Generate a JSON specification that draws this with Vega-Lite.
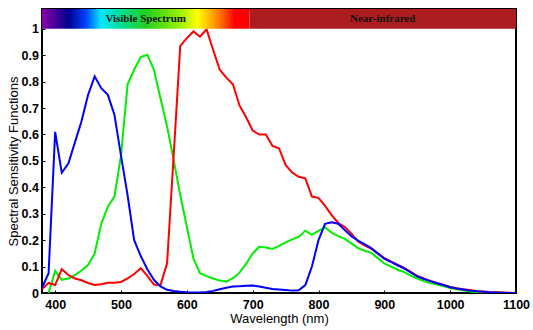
{
  "$schema": "https://vega.github.io/schema/vega-lite/v6.json",
  "width": 474,
  "height": 284,
  "autosize": {"type": "none"},
  "padding": {"left": 42, "top": 9, "right": 17, "bottom": 37},
  "background": "white",
  "config": {"view": {"stroke": "#000", "strokeWidth": 2}, "axis": {"labelOverlap": false, "labelFlush": false}},
  "datasets": {
    "bands": [
      {"region": "Visible Spectrum", "start": 380, "end": 695, "mid": 537.5, "low": 1.0, "high": 1.075, "ty": 1.0375},
      {"region": "Near-infrared", "start": 695, "end": 1100, "mid": 897.5, "low": 1.0, "high": 1.075, "ty": 1.0375}
    ],
    "curves": [
      {"ch":"G","wl":390,"v":0.0},{"ch":"G","wl":400,"v":0.084},{"ch":"G","wl":410,"v":0.05},{"ch":"G","wl":420,"v":0.055},{"ch":"G","wl":430,"v":0.068},{"ch":"G","wl":440,"v":0.085},{"ch":"G","wl":450,"v":0.106},{"ch":"G","wl":460,"v":0.15},{"ch":"G","wl":470,"v":0.262},{"ch":"G","wl":480,"v":0.327},{"ch":"G","wl":490,"v":0.365},{"ch":"G","wl":500,"v":0.52},{"ch":"G","wl":510,"v":0.79},{"ch":"G","wl":520,"v":0.845},{"ch":"G","wl":530,"v":0.893},{"ch":"G","wl":540,"v":0.902},{"ch":"G","wl":550,"v":0.845},{"ch":"G","wl":560,"v":0.737},{"ch":"G","wl":570,"v":0.63},{"ch":"G","wl":580,"v":0.504},{"ch":"G","wl":590,"v":0.371},{"ch":"G","wl":600,"v":0.251},{"ch":"G","wl":610,"v":0.131},{"ch":"G","wl":620,"v":0.075},{"ch":"G","wl":630,"v":0.064},{"ch":"G","wl":640,"v":0.055},{"ch":"G","wl":650,"v":0.047},{"ch":"G","wl":660,"v":0.043},{"ch":"G","wl":670,"v":0.056},{"ch":"G","wl":680,"v":0.077},{"ch":"G","wl":690,"v":0.11},{"ch":"G","wl":700,"v":0.15},{"ch":"G","wl":710,"v":0.175},{"ch":"G","wl":720,"v":0.172},{"ch":"G","wl":730,"v":0.167},{"ch":"G","wl":740,"v":0.178},{"ch":"G","wl":750,"v":0.192},{"ch":"G","wl":760,"v":0.203},{"ch":"G","wl":770,"v":0.212},{"ch":"G","wl":780,"v":0.236},{"ch":"G","wl":790,"v":0.22},{"ch":"G","wl":800,"v":0.235},{"ch":"G","wl":810,"v":0.248},{"ch":"G","wl":820,"v":0.228},{"ch":"G","wl":830,"v":0.215},{"ch":"G","wl":840,"v":0.205},{"ch":"G","wl":850,"v":0.188},{"ch":"G","wl":860,"v":0.17},{"ch":"G","wl":870,"v":0.16},{"ch":"G","wl":880,"v":0.152},{"ch":"G","wl":890,"v":0.132},{"ch":"G","wl":900,"v":0.112},{"ch":"G","wl":910,"v":0.1},{"ch":"G","wl":920,"v":0.088},{"ch":"G","wl":930,"v":0.079},{"ch":"G","wl":940,"v":0.066},{"ch":"G","wl":950,"v":0.055},{"ch":"G","wl":960,"v":0.045},{"ch":"G","wl":970,"v":0.038},{"ch":"G","wl":980,"v":0.032},{"ch":"G","wl":990,"v":0.025},{"ch":"G","wl":1000,"v":0.019},{"ch":"G","wl":1010,"v":0.014},{"ch":"G","wl":1020,"v":0.01},{"ch":"G","wl":1030,"v":0.006},{"ch":"G","wl":1040,"v":0.003},{"ch":"G","wl":1050,"v":0.001},{"ch":"G","wl":1060,"v":0.0},
      {"ch":"R","wl":380,"v":0.015},{"ch":"R","wl":390,"v":0.038},{"ch":"R","wl":400,"v":0.03},{"ch":"R","wl":410,"v":0.09},{"ch":"R","wl":420,"v":0.068},{"ch":"R","wl":430,"v":0.055},{"ch":"R","wl":440,"v":0.048},{"ch":"R","wl":450,"v":0.038},{"ch":"R","wl":460,"v":0.03},{"ch":"R","wl":470,"v":0.033},{"ch":"R","wl":480,"v":0.039},{"ch":"R","wl":490,"v":0.039},{"ch":"R","wl":500,"v":0.042},{"ch":"R","wl":510,"v":0.055},{"ch":"R","wl":520,"v":0.072},{"ch":"R","wl":530,"v":0.094},{"ch":"R","wl":540,"v":0.065},{"ch":"R","wl":550,"v":0.032},{"ch":"R","wl":560,"v":0.03},{"ch":"R","wl":570,"v":0.112},{"ch":"R","wl":580,"v":0.52},{"ch":"R","wl":590,"v":0.935},{"ch":"R","wl":600,"v":0.965},{"ch":"R","wl":610,"v":0.99},{"ch":"R","wl":620,"v":0.97},{"ch":"R","wl":630,"v":0.998},{"ch":"R","wl":640,"v":0.92},{"ch":"R","wl":650,"v":0.845},{"ch":"R","wl":660,"v":0.815},{"ch":"R","wl":670,"v":0.79},{"ch":"R","wl":680,"v":0.71},{"ch":"R","wl":690,"v":0.665},{"ch":"R","wl":700,"v":0.615},{"ch":"R","wl":710,"v":0.6},{"ch":"R","wl":720,"v":0.6},{"ch":"R","wl":730,"v":0.557},{"ch":"R","wl":740,"v":0.548},{"ch":"R","wl":750,"v":0.485},{"ch":"R","wl":760,"v":0.456},{"ch":"R","wl":770,"v":0.44},{"ch":"R","wl":780,"v":0.434},{"ch":"R","wl":790,"v":0.365},{"ch":"R","wl":800,"v":0.36},{"ch":"R","wl":810,"v":0.33},{"ch":"R","wl":820,"v":0.295},{"ch":"R","wl":830,"v":0.265},{"ch":"R","wl":840,"v":0.25},{"ch":"R","wl":850,"v":0.225},{"ch":"R","wl":860,"v":0.195},{"ch":"R","wl":870,"v":0.18},{"ch":"R","wl":880,"v":0.168},{"ch":"R","wl":890,"v":0.15},{"ch":"R","wl":900,"v":0.132},{"ch":"R","wl":910,"v":0.12},{"ch":"R","wl":920,"v":0.107},{"ch":"R","wl":930,"v":0.095},{"ch":"R","wl":940,"v":0.08},{"ch":"R","wl":950,"v":0.065},{"ch":"R","wl":960,"v":0.055},{"ch":"R","wl":970,"v":0.046},{"ch":"R","wl":980,"v":0.038},{"ch":"R","wl":990,"v":0.03},{"ch":"R","wl":1000,"v":0.023},{"ch":"R","wl":1010,"v":0.018},{"ch":"R","wl":1020,"v":0.014},{"ch":"R","wl":1030,"v":0.011},{"ch":"R","wl":1040,"v":0.008},{"ch":"R","wl":1050,"v":0.006},{"ch":"R","wl":1060,"v":0.004},{"ch":"R","wl":1070,"v":0.003},{"ch":"R","wl":1080,"v":0.002},{"ch":"R","wl":1090,"v":0.001},{"ch":"R","wl":1100,"v":0.0},
      {"ch":"B","wl":380,"v":0.02},{"ch":"B","wl":390,"v":0.075},{"ch":"B","wl":400,"v":0.61},{"ch":"B","wl":410,"v":0.455},{"ch":"B","wl":420,"v":0.49},{"ch":"B","wl":430,"v":0.57},{"ch":"B","wl":440,"v":0.65},{"ch":"B","wl":450,"v":0.75},{"ch":"B","wl":460,"v":0.82},{"ch":"B","wl":470,"v":0.775},{"ch":"B","wl":480,"v":0.75},{"ch":"B","wl":490,"v":0.675},{"ch":"B","wl":500,"v":0.52},{"ch":"B","wl":510,"v":0.37},{"ch":"B","wl":520,"v":0.2},{"ch":"B","wl":530,"v":0.14},{"ch":"B","wl":540,"v":0.09},{"ch":"B","wl":550,"v":0.05},{"ch":"B","wl":560,"v":0.025},{"ch":"B","wl":570,"v":0.012},{"ch":"B","wl":580,"v":0.008},{"ch":"B","wl":590,"v":0.005},{"ch":"B","wl":600,"v":0.003},{"ch":"B","wl":610,"v":0.002},{"ch":"B","wl":620,"v":0.002},{"ch":"B","wl":630,"v":0.004},{"ch":"B","wl":640,"v":0.008},{"ch":"B","wl":650,"v":0.014},{"ch":"B","wl":660,"v":0.02},{"ch":"B","wl":670,"v":0.025},{"ch":"B","wl":680,"v":0.026},{"ch":"B","wl":690,"v":0.027},{"ch":"B","wl":700,"v":0.028},{"ch":"B","wl":710,"v":0.025},{"ch":"B","wl":720,"v":0.02},{"ch":"B","wl":730,"v":0.015},{"ch":"B","wl":740,"v":0.013},{"ch":"B","wl":750,"v":0.011},{"ch":"B","wl":760,"v":0.009},{"ch":"B","wl":770,"v":0.01},{"ch":"B","wl":780,"v":0.03},{"ch":"B","wl":790,"v":0.1},{"ch":"B","wl":800,"v":0.2},{"ch":"B","wl":810,"v":0.262},{"ch":"B","wl":820,"v":0.268},{"ch":"B","wl":830,"v":0.262},{"ch":"B","wl":840,"v":0.238},{"ch":"B","wl":850,"v":0.215},{"ch":"B","wl":860,"v":0.198},{"ch":"B","wl":870,"v":0.185},{"ch":"B","wl":880,"v":0.17},{"ch":"B","wl":890,"v":0.15},{"ch":"B","wl":900,"v":0.13},{"ch":"B","wl":910,"v":0.118},{"ch":"B","wl":920,"v":0.105},{"ch":"B","wl":930,"v":0.093},{"ch":"B","wl":940,"v":0.078},{"ch":"B","wl":950,"v":0.063},{"ch":"B","wl":960,"v":0.053},{"ch":"B","wl":970,"v":0.045},{"ch":"B","wl":980,"v":0.037},{"ch":"B","wl":990,"v":0.03},{"ch":"B","wl":1000,"v":0.022},{"ch":"B","wl":1010,"v":0.017},{"ch":"B","wl":1020,"v":0.013},{"ch":"B","wl":1030,"v":0.009},{"ch":"B","wl":1040,"v":0.007},{"ch":"B","wl":1050,"v":0.005},{"ch":"B","wl":1060,"v":0.003},{"ch":"B","wl":1070,"v":0.002},{"ch":"B","wl":1080,"v":0.001},{"ch":"B","wl":1090,"v":0.0},{"ch":"B","wl":1100,"v":0.0}
    ]
  },
  "layer": [
    {
      "data": {"name": "curves"},
      "mark": {"type": "line", "strokeWidth": 2, "clip": true},
      "encoding": {
        "x": {
          "field": "wl", "type": "quantitative", "title": "Wavelength (nm)",
          "scale": {"domain": [380, 1100], "nice": false, "zero": false},
          "axis": {
            "values": [400, 500, 600, 700, 800, 900, 1000, 1100],
            "format": "d", "labelOverlap": false, "labelFlush": false,
            "domain": false, "grid": false,
            "tickSize": -3, "tickColor": "#000", "tickWidth": 1,
            "labelPadding": 8, "labelFont": "Liberation Sans", "labelFontWeight": "bold", "labelFontSize": 12.5, "labelColor": "#000",
            "titleFont": "Liberation Sans", "titleFontWeight": "normal", "titleFontSize": 13, "titleColor": "#000",
            "titleY": 29, "titleBaseline": "alphabetic"
          }
        },
        "y": {
          "field": "v", "type": "quantitative", "title": "Spectral Sensitivity Functions",
          "scale": {"domain": [0, 1.075], "nice": false},
          "axis": {
            "tickCount": 11,
            "labelExpr": "format(datum.value, '~g')",
            "labelOverlap": false, "labelFlush": false,
            "domain": false, "grid": false,
            "tickSize": -3, "tickColor": "#000", "tickWidth": 1,
            "labelPadding": 6.5, "labelFont": "Liberation Sans", "labelFontWeight": "bold", "labelFontSize": 12.5, "labelColor": "#000",
            "titleFont": "Liberation Sans", "titleFontWeight": "normal", "titleFontSize": 13, "titleColor": "#000",
            "titleX": -25, "titleY": 152, "titleAngle": 270, "titleBaseline": "alphabetic"
          }
        },
        "color": {
          "field": "ch", "type": "nominal", "legend": null,
          "scale": {"domain": ["G", "R", "B"], "range": ["#00ee00", "#ff0000", "#0000ff"]}
        }
      }
    },
    {
      "data": {"name": "bands"},
      "transform": [{"filter": "datum.region == 'Visible Spectrum'"}],
      "mark": {
        "type": "rect",
        "color": {
          "gradient": "linear", "x1": 0, "y1": 0, "x2": 1, "y2": 0,
          "stops": [
            {"offset": 0, "color": "#8a00a8"},
            {"offset": 0.13, "color": "#000090"},
            {"offset": 0.21, "color": "#0040ff"},
            {"offset": 0.285, "color": "#00e8ff"},
            {"offset": 0.37, "color": "#00e0a0"},
            {"offset": 0.5, "color": "#20d020"},
            {"offset": 0.67, "color": "#a0f000"},
            {"offset": 0.75, "color": "#ffff00"},
            {"offset": 0.85, "color": "#ff8000"},
            {"offset": 0.93, "color": "#ff0000"},
            {"offset": 1, "color": "#ff0000"}
          ]
        }
      },
      "encoding": {
        "x": {"field": "start", "type": "quantitative", "title": "Wavelength (nm)"},
        "x2": {"field": "end"},
        "y": {"field": "low", "type": "quantitative", "title": "Spectral Sensitivity Functions"},
        "y2": {"field": "high"}
      }
    },
    {
      "data": {"name": "bands"},
      "transform": [{"filter": "datum.region == 'Near-infrared'"}],
      "mark": {"type": "rect", "color": "#ad1d1f"},
      "encoding": {
        "x": {"field": "start", "type": "quantitative", "title": "Wavelength (nm)"},
        "x2": {"field": "end"},
        "y": {"field": "low", "type": "quantitative", "title": "Spectral Sensitivity Functions"},
        "y2": {"field": "high"}
      }
    },
    {
      "data": {"name": "bands"},
      "mark": {"type": "text", "font": "Liberation Serif, DejaVu Serif, serif", "fontWeight": "bold", "fontSize": 11, "color": "#111", "baseline": "middle", "align": "center"},
      "encoding": {
        "x": {"field": "mid", "type": "quantitative", "title": "Wavelength (nm)"},
        "y": {"field": "ty", "type": "quantitative", "title": "Spectral Sensitivity Functions"},
        "text": {"field": "region"}
      }
    }
  ]
}
